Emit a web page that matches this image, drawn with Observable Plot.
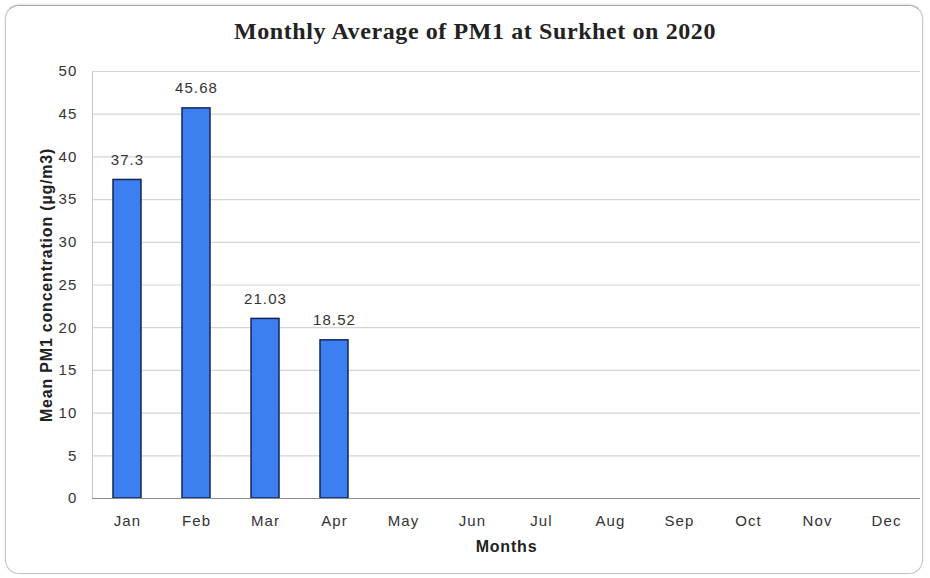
<!DOCTYPE html>
<html>
<head>
<meta charset="utf-8">
<script src="https://cdn.jsdelivr.net/npm/d3@7"></script>
<script src="https://cdn.jsdelivr.net/npm/@observablehq/plot@0.6"></script>
<style>
  html, body { margin: 0; padding: 0; background: #fff; }
  #wrap { position: relative; width: 930px; height: 578px; overflow: hidden; }
  #border { position: absolute; left: 5px; top: 5px; width: 916px; height: 567px;
            border: 1.5px solid #c4c4c4; border-top-color: #a8a8a8; border-radius: 14px;
            box-shadow: 0 -1px 2px rgba(0,0,0,0.12); }
  #title { position: absolute; left: 10px; width: 930px; top: 18px; text-align: center;
           font-family: "Liberation Serif", "DejaVu Serif", serif; font-weight: bold;
           font-size: 24px; color: #222; letter-spacing: 0.6px; }
  #chart { position: absolute; left: 0; top: 0; }
</style>
</head>
<body>
<div id="wrap">
  <div id="border"></div>
  <div id="chart"></div>
  <div id="title">Monthly Average of PM1 at Surkhet on 2020</div>
</div>
<script>
const months = ["Jan","Feb","Mar","Apr","May","Jun","Jul","Aug","Sep","Oct","Nov","Dec"];
const barMonths = ["Jan","Feb","Mar","Apr"];
const pm1Values = [37.3, 45.68, 21.03, 18.52];
const valueLabels = ["37.3", "45.68", "21.03", "18.52"];
const yTicks = [0,5,10,15,20,25,30,35,40,45,50];

const data = barMonths.map((m, i) => ({month: m, value: pm1Values[i], label: valueLabels[i]}));

const chart = Plot.plot({
  width: 930,
  height: 578,
  marginTop: 71,
  marginBottom: 80,
  marginLeft: 92,
  marginRight: 10,
  style: {fontFamily: "'Liberation Sans', Arial, sans-serif", fontSize: "15px", color: "#333", background: "transparent"},
  x: {domain: months, paddingInner: 0.6, paddingOuter: 0.3, label: null},
  y: {domain: [0, 50], label: null},
  marks: [
    Plot.gridY(yTicks.filter(d => d > 0), {stroke: "#d4d4d4", strokeOpacity: 1, strokeWidth: 1.2}),
    Plot.frame({anchor: "left", stroke: "#c8c8c8"}),
    Plot.barY(data, {x: "month", y: "value", fill: "#3b7ff0", stroke: "#14245a", strokeWidth: 1.5}),
    Plot.ruleY([0], {stroke: "#8c8c8c", strokeWidth: 1.2}),
    Plot.text(data, {x: "month", y: "value", text: "label", dy: -20, fontSize: 15, fill: "#333"}),
    Plot.axisY(yTicks, {tickSize: 0, tickPadding: 15, fontSize: 15, fill: "#333",
      label: "Mean PM1 concentration (µg/m3)", labelAnchor: "center", labelArrow: "none", labelOffset: 52}),
    Plot.axisX(months, {tickSize: 0, tickPadding: 17, fontSize: 15, fill: "#333",
      label: "Months", labelAnchor: "center", labelArrow: "none", labelOffset: 53})
  ]
});
document.getElementById("chart").appendChild(chart);
// letter spacing to match the wider reference lettering
chart.querySelectorAll("text").forEach(t => { t.style.letterSpacing = "1.1px"; });
// bold axis labels
chart.querySelectorAll("g[aria-label='y-axis label'] text, g[aria-label='x-axis label'] text").forEach(t => {
  t.style.fontWeight = "bold"; t.style.fontSize = "16px"; t.style.fill = "#222"; t.style.letterSpacing = "0.8px";
});
</script>
</body>
</html>
